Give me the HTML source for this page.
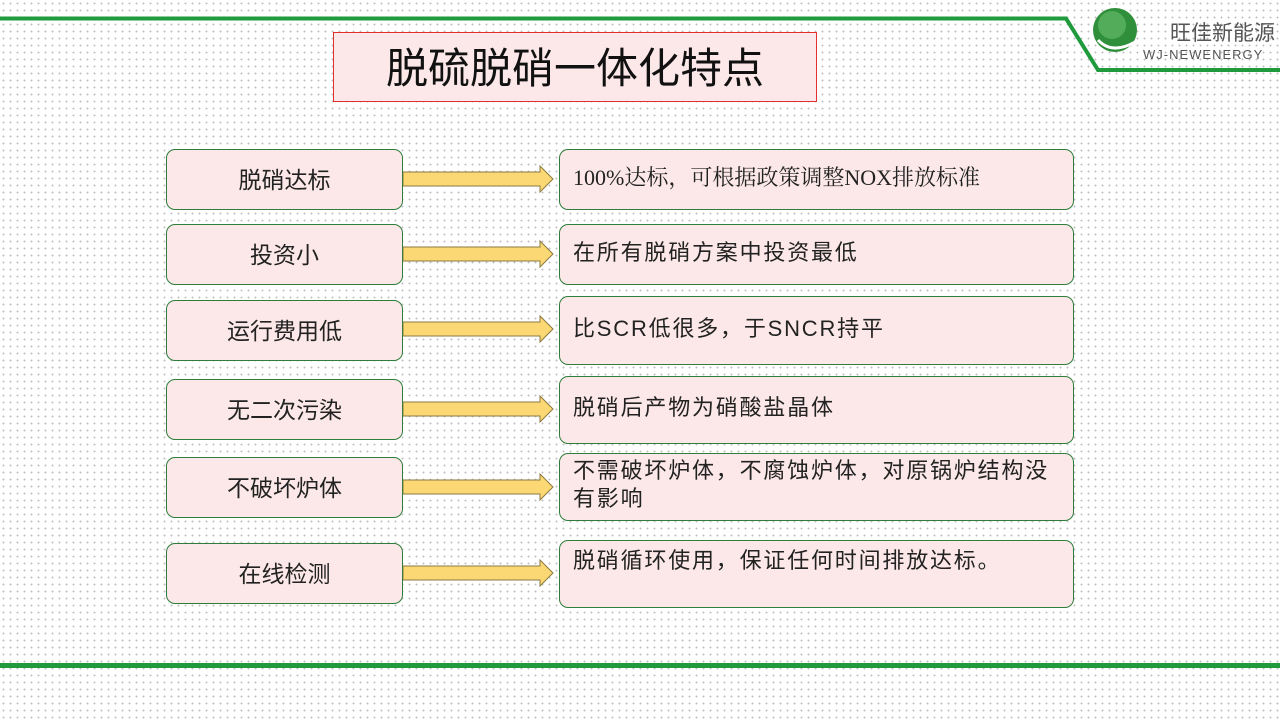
<!DOCTYPE html>
<html><head><meta charset="utf-8"><style>
body{margin:0;width:1280px;height:720px;overflow:hidden;position:relative;font-family:"Liberation Sans","Noto Sans CJK SC",sans-serif;
background-color:#fff;background-image:radial-gradient(circle,#c0c0c0 0.8px,transparent 1.1px);background-size:7px 7px}
.b{position:absolute;background:#fce8e8;border:1px solid #2e7d3a;border-radius:9px;box-sizing:border-box;color:#222;font-size:23px;display:flex;align-items:center;padding-bottom:4px}
.l{left:166px;width:237px;justify-content:center}
.r{left:559px;width:515px;padding:0 12px 4px 13px;line-height:28px;letter-spacing:1.8px;font-size:22px}
svg{position:absolute;left:0;top:0}
</style></head><body>
<svg width="1280" height="720">
<polyline points="0,18.5 1066,18.5 1098,70 1280,70" fill="none" stroke="#1f9a3c" stroke-width="4"/>
<rect x="0" y="663" width="1280" height="5" fill="#1f9a3c"/>
<circle cx="1115" cy="30" r="22" fill="#2f8f3a"/>
<circle cx="1112" cy="25" r="14" fill="#6cc070" opacity=".6"/>
<path d="M1098,40 Q1112,55 1135,42" stroke="#fff" stroke-width="3" fill="none"/>
<text x="1170" y="40" font-size="21" fill="#555" font-family="Noto Sans CJK SC,sans-serif">旺佳新能源</text>
<text x="1143" y="59" font-size="13" fill="#555" font-family="Liberation Sans,sans-serif" letter-spacing="1">WJ-NEWENERGY</text>
<g fill="#fcd874" stroke="#8a7a40" stroke-width="1">
<path id="a" d="M403,172 L540,172 L540,166 L553,179 L540,192 L540,186 L403,186 Z"/>
<use href="#a" y="75"/><use href="#a" y="150"/><use href="#a" y="230"/><use href="#a" y="308"/><use href="#a" y="394"/>
</g>
</svg>
<div class="b" style="left:333px;top:32px;width:484px;height:70px;border:1px solid #e03030;border-radius:0;justify-content:center;font-size:42px;color:#111">脱硫脱硝一体化特点</div>
<div class="b l" style="top:149px;height:61px">脱硝达标</div>
<div class="b l" style="top:224px;height:61px">投资小</div>
<div class="b l" style="top:300px;height:61px">运行费用低</div>
<div class="b l" style="top:379px;height:61px">无二次污染</div>
<div class="b l" style="top:457px;height:61px">不破坏炉体</div>
<div class="b l" style="top:543px;height:61px">在线检测</div>
<div class="b r" style="top:149px;height:61px;font-family:'Liberation Serif','Noto Serif CJK SC',serif;font-size:22px;letter-spacing:0">100%达标，可根据政策调整NOX排放标准</div>
<div class="b r" style="top:224px;height:61px">在所有脱硝方案中投资最低</div>
<div class="b r" style="top:296px;height:69px">比SCR低很多，于SNCR持平</div>
<div class="b r" style="top:376px;height:68px">脱硝后产物为硝酸盐晶体</div>
<div class="b r" style="top:453px;height:68px;padding-right:14px">不需破坏炉体，不腐蚀炉体，对原锅炉结构没有影响</div>
<div class="b r" style="top:540px;height:68px;align-items:flex-start;padding-top:6px">脱硝循环使用，保证任何时间排放达标。</div>
</body></html>
